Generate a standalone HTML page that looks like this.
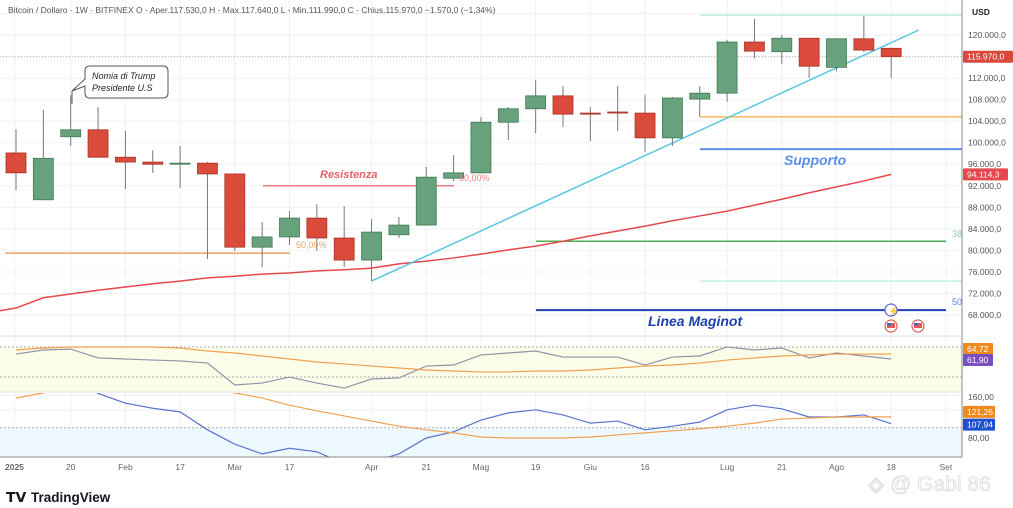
<!DOCTYPE html>
<html><head><meta charset="utf-8">
<style>
html,body{margin:0;padding:0;background:#fff;width:1013px;height:508px;overflow:hidden;font-family:"Liberation Sans",sans-serif}
svg{position:absolute;left:0;top:0}
text{font-family:"Liberation Sans",sans-serif}
</style></head>
<body>
<svg id="chart" width="1013" height="508" xmlns="http://www.w3.org/2000/svg">
  <g id="grid"></g>
  <rect x="0" y="347" width="962" height="45" fill="#fbfde9"/>
  <rect x="0" y="428" width="962" height="29" fill="#eef9fd"/>
  <g id="price"></g>
  <g id="ind"></g>
  <g id="axes"></g>
  <text x="8" y="13" font-size="8.5" fill="#555">Bitcoin / Dollaro · 1W · BITFINEX  O - Aper.117.530,0  H - Max.117.640,0  L - Min.111.990,0  C - Chius.115.970,0  −1.570,0 (−1,34%)</text>
  <g>
    <path d="M90,66 H163 Q168,66 168,71 V93 Q168,98 163,98 H90 Q85,98 85,93 V86 L72,91 L85,79 V71 Q85,66 90,66 Z" fill="#fff" stroke="#555" stroke-width="1"/>
    <line x1="72" y1="91" x2="72" y2="104" stroke="#555" stroke-width="1"/>
    <text x="92" y="79" font-size="9" font-style="italic" fill="#222">Nomia di Trump</text>
    <text x="92" y="91" font-size="9" font-style="italic" fill="#222">Presidente U.S</text>
  </g>
  <g>
    <text x="6" y="502" font-size="14" font-weight="bold" fill="#131722">𝗧𝗩</text>
    <text x="31" y="502" font-size="13.5" font-weight="bold" fill="#131722">TradingView</text>
  </g>
  <text x="868" y="491" font-size="21" fill="#fafafa" stroke="#d4d4d4" stroke-width="0.6">◈ @ Gabi 86</text>
</svg>
<script>
const NS='http://www.w3.org/2000/svg';
// ---- data ----
const dateLabels=['2025','20','Feb','17','Mar','17','Apr','21','Mag','19','Giu','16','Lug','21','Ago','18','Set'];
const dateIdx=[-0.05,2,4,6,8,10,13,15,17,19,21,23,26,28,30,32,34];
const opens =[98100,89400,101100,102400,97300,96400,96100,96200,94200,80600,82500,86000,82300,78200,82900,84700,93400,94400,103800,106300,108700,105500,105700,105500,100900,108100,109200,118700,116900,119400,114000,119300,117530];
const closes=[94400,97100,102400,97300,96400,96000,96200,94200,80600,82500,86000,82300,78200,83400,84700,93600,94400,103800,106300,108700,105300,105300,105500,100900,108300,109200,118700,117000,119400,114200,119300,117200,115970];
const highs =[102500,106100,108800,106600,102200,98600,99400,96400,94200,85300,87300,88600,88200,85800,86200,95500,97700,104800,106600,111600,110500,106600,110500,108900,108500,110500,119100,123000,120000,119400,119300,123500,117640];
const lows  =[91200,89400,99400,98100,91400,94400,91600,78400,79900,76900,81000,79900,76900,74300,82300,84700,92900,94400,100500,101800,102900,100300,102200,98300,99400,104800,107600,115700,114600,112000,113300,116800,111990];
const ma200 =[69300,71200,71900,72600,73200,73800,74300,74900,75200,75600,75800,76200,76400,76700,77500,78000,78600,79300,80100,80800,81700,82700,83600,84500,85500,86400,87300,88400,89500,90700,91800,92900,94114];
const rsi   =[64.7,67.0,67.5,62.5,61.9,61.3,60.8,59.6,47.2,48.3,51.7,48.3,45.5,50.6,51.2,57.9,58.5,64.2,65.3,66.4,63.0,63.0,63.0,58.5,63.0,63.6,68.7,67.0,68.1,62.5,65.3,63.6,61.9];
const rsiMa =[67.0,68.1,68.7,68.7,68.7,68.7,68.1,66.4,65.3,63.6,61.9,60.2,59.1,57.9,56.8,55.7,55.1,54.6,54.6,55.1,55.1,55.7,56.8,57.9,58.5,59.6,61.3,62.5,63.6,64.2,64.7,64.7,64.72];
const cci   =[220,230,200,167,148,138,131,96,68,49,60,53,30,33,49,80,92,115,129,135,125,109,113,96,103,111,135,144,137,121,121,125,107.94];
const cciMa =[158,168,190,200,200,195,185,175,168,158,144,133,123,113,103,96,90,82,80,80,80,82,86,90,94,98,103,109,117,119,121,121,121.26];
const priceTicks=[120000,112000,108000,104000,100000,96000,92000,88000,84000,80000,76000,72000,68000];
const levelPrices=[123700,104800,98800,81700,74300,68900];
const trendStart=[13,74300]; const trendEnd=[33,120900];
// ---- scales ----
const xOf=i=>16+27.35*i;
const yP=p=>35+(120000-p)*0.005385;
const yR=v=>359-(v-61.9)*1.77;
const yC=v=>438-(v-80)*0.5125;
function el(tag,attrs,parent){const e=document.createElementNS(NS,tag);for(const k in attrs)e.setAttribute(k,attrs[k]);parent.appendChild(e);return e;}
const grid=document.getElementById('grid'),price=document.getElementById('price'),ind=document.getElementById('ind'),axes=document.getElementById('axes');
// grid
for(let p=124000;p>=64000;p-=4000){const g=el('line',{x1:0,x2:962,y1:yP(p),y2:yP(p),stroke:'#f0f2f5','stroke-width':1},grid);}
dateIdx.forEach(d=>{const g=el('line',{x1:xOf(d),x2:xOf(d),y1:0,y2:457,stroke:'#eef0f3','stroke-width':1},grid);});
[395,410,437].forEach(y=>{const g=el('line',{x1:0,x2:962,y1:y,y2:y,stroke:'#f0f2f5'},grid);});
// level lines
function hline(name,p,x1,x2,color,w){const l=el('line',{x1:x1,x2:x2,y1:yP(p),y2:yP(p),stroke:color,'stroke-width':w},price);return l;}
hline('fib-left-50',79500,5,290,'#f0a060',1.5);
hline('resistance-line',92000,263,454,'#ef7f86',1.5);
hline('top-cyan-level',levelPrices[0],700,962,'#b8ebe4',1.5);
hline('orange-level',levelPrices[1],700,962,'#f5b85a',1.5);
hline('support-line',levelPrices[2],700,962,'#5b8def',2);
hline('fib-38-line',levelPrices[3],536,946,'#4caf50',1.5);
hline('light-cyan-level',levelPrices[4],700,962,'#b8ebe4',1.2);
hline('maginot-line',levelPrices[5],536,946,'#1e40b0',2);
const cur=el('line',{x1:0,x2:962,y1:yP(115970),y2:yP(115970),stroke:'#c9a9a9','stroke-dasharray':'1,2'},price);

// MA
const maPath=el('polyline',{points:ma200.map((v,i)=>xOf(i)+','+yP(v)).join(' '),fill:'none',stroke:'#e5484d','stroke-width':1.5},price);

el('line',{x1:0,y1:yP(68800),x2:xOf(0),y2:yP(ma200[0]),stroke:'#e5484d','stroke-width':1.5},price);
// trend line
const tl=el('line',{x1:xOf(trendStart[0]),y1:yP(trendStart[1]),x2:xOf(trendEnd[0]),y2:yP(trendEnd[1]),stroke:'#5bc8dc','stroke-width':1.5},price);

// candles
opens.forEach((o,i)=>{const c=closes[i],up=c>=o,x=xOf(i),col=up?'#68a27d':'#db4b3b',bd=up?'#3f7a56':'#a8352a';
 const g=el('g',{},price);
 
 
 el('line',{x1:x,x2:x,y1:yP(highs[i]),y2:yP(lows[i]),stroke:'#777','stroke-width':1},g);
 const t=yP(Math.max(o,c)),b=yP(Math.min(o,c));
 el('rect',{x:x-10,y:t,width:20,height:Math.max(1,b-t),fill:col,stroke:bd,'stroke-width':0.8},g);});
// labels
function txt(name,x,y,s,size,color,extra){const t=el('text',Object.assign({x:x,y:y,'font-size':size,fill:color},extra||{}),price);t.textContent=s;return t;}
txt('resistance-label',320,178,'Resistenza',11,'#e5606a',{'font-weight':'bold','font-style':'italic'});
txt('fib-50-label-left',296,248,'50,00%',9,'#f0a060');
txt('fib-50-label-mid',459,181,'50,00%',9,'#ef7f86');
txt('support-label',784,165,'Supporto',14,'#5b8def',{'font-weight':'bold','font-style':'italic'});
txt('maginot-label',648,326,'Linea Maginot',14,'#1e40b0',{'font-weight':'bold','font-style':'italic'});
txt('fib-38-label',952,237,'38',9,'#8fd19e');
txt('fib-50-label-right',952,305,'50',9,'#5b7fd6');
// event icons
const ev=el('g',{},price);
el('circle',{cx:891,cy:310,r:6,fill:'#fff',stroke:'#5a5fd0','stroke-width':1.2},ev);
const lt=el('text',{x:888,y:314,'font-size':9,fill:'#5a5fd0'},ev);lt.textContent='⚡';
[891,918].forEach(x=>{el('circle',{cx:x,cy:326,r:6,fill:'#fff',stroke:'#e05a5a','stroke-width':1.2},ev);el('rect',{x:x-4,y:323,width:8,height:5,fill:'#e05a5a'},ev);el('rect',{x:x-4,y:323,width:4,height:2.5,fill:'#4060c0'},ev);});
// RSI pane
[68.7,51.7].forEach(v=>{const l=el('line',{x1:0,x2:962,y1:yR(v),y2:yR(v),stroke:'#aaa','stroke-dasharray':'2,2'},ind);});
const rl=el('polyline',{points:rsi.map((v,i)=>xOf(i)+','+yR(v)).join(' '),fill:'none',stroke:'#9092a8','stroke-width':1.2},ind);

const rml=el('polyline',{points:rsiMa.map((v,i)=>xOf(i)+','+yR(v)).join(' '),fill:'none',stroke:'#f0a050','stroke-width':1.2},ind);

// CCI pane with clip
const defs=el('defs',{},ind);const cp=el('clipPath',{id:'cciclip'},defs);el('rect',{x:0,y:393,width:962,height:64},cp);
const cg=el('g',{'clip-path':'url(#cciclip)'},ind);
const dl=el('line',{x1:0,x2:962,y1:yC(100),y2:yC(100),stroke:'#aaa','stroke-dasharray':'2,2'},cg);
const cl=el('polyline',{points:cci.map((v,i)=>xOf(i)+','+yC(v)).join(' '),fill:'none',stroke:'#5a72d0','stroke-width':1.2},cg);

const cml=el('polyline',{points:cciMa.map((v,i)=>xOf(i)+','+yC(v)).join(' '),fill:'none',stroke:'#f0a050','stroke-width':1.2},cg);

// axes
el('line',{x1:962,x2:962,y1:0,y2:457,stroke:'#888'},axes);
el('line',{x1:0,x2:962,y1:457,y2:457,stroke:'#888'},axes);
el('line',{x1:0,x2:962,y1:336,y2:336,stroke:'#e0e3eb'},axes);
el('line',{x1:0,x2:962,y1:392,y2:392,stroke:'#e0e3eb'},axes);
const usd=el('text',{x:972,y:15,'font-size':8.5,'font-weight':'bold',fill:'#222'},axes);usd.textContent='USD';
priceTicks.forEach(p=>{const t=el('text',{x:968,y:yP(p)+3,'font-size':8.5,fill:'#555'},axes);t.textContent=Math.floor(p/1000)+'.'+String(p%1000).padStart(3,'0')+',0';});
function badge(name,y,w,color,s){const g=el('g',{},axes);el('rect',{x:963,y:y-6,width:w,height:12,fill:color,rx:1},g);const t=el('text',{x:967,y:y+3,'font-size':8.5,fill:'#fff'},g);t.textContent=s;}
badge('last-price-label',yP(115970),50,'#d9493b','115.970,0');
badge('ma-value-label',yP(ma200[32]),45,'#e5484d','94.114,3');
badge('rsi-ma-value',yR(rsiMa[32])-5,30,'#f08a1c','64,72');
badge('rsi-value',yR(rsi[32])+1,30,'#7a4fc0','61,90');
badge('cci-ma-value',yC(cciMa[32])-5,32,'#f08a1c','121,26');
badge('cci-value',yC(cci[32])+1,32,'#1e4fd0','107,94');
[[160,'160,00'],[80,'80,00']].forEach(([v,s])=>{const t=el('text',{x:968,y:yC(v)+3,'font-size':8.5,fill:'#555'},axes);t.textContent=s;});
dateLabels.forEach((s,k)=>{const t=el('text',{x:xOf(dateIdx[k]),y:470,'font-size':8.5,fill:'#666','text-anchor':k===0?'start':'middle','font-weight':k===0?'bold':'normal'},axes);if(k===0)t.setAttribute('x',5);t.textContent=s;});
</script>
</body></html>
